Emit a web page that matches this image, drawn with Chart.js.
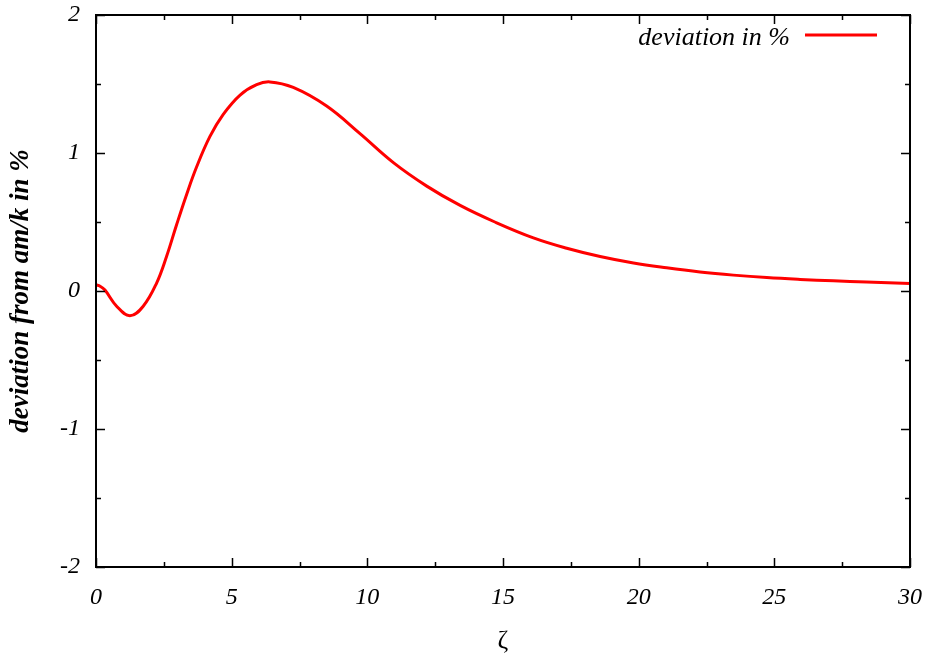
<!DOCTYPE html>
<html lang="en">
<head>
    <meta charset="UTF-8">
    <title>Deviation from am/k</title>
    <script src="https://cdn.jsdelivr.net/npm/chart.js"></script>
    <style>
        html, body { margin: 0; padding: 0; background: #fff; }
        #wrap { width: 926px; height: 654px; }
    </style>
</head>
<body>
    <div id="wrap"><canvas id="devChart" width="926" height="654"></canvas></div>

    <script>
        // curve samples: zeta and deviation in %
        const zeta = [0, 0.15, 0.33, 0.76, 1.25, 1.74, 2.23, 2.6, 2.97, 3.34, 3.71, 4.2, 4.69, 5.31, 5.92, 6.41,
            7.27, 8.5, 9.73, 10.96, 12.19, 13.42, 14.7, 16.12, 17.35, 18.58, 19.81, 21.03, 22.26,
            23.49, 24.72, 25.95, 27.18, 28.4, 30];
        const deviation = [0.045, 0.035, 0.007, -0.11, -0.18, -0.11, 0.056, 0.25, 0.48, 0.70, 0.90, 1.12, 1.28, 1.42, 1.495, 1.515,
            1.475, 1.34, 1.14, 0.93, 0.76, 0.62, 0.50, 0.385, 0.31, 0.25, 0.203, 0.168, 0.138,
            0.115, 0.097, 0.084, 0.074, 0.065, 0.055];

        const xRange = [0, 30];
        const yRange = [-2, 2];
        const xStep = 5;
        const yStep = 1;
        const seriesLabel = 'deviation in %';
        const xTitle = 'ζ';
        const yTitle = 'deviation from am/k in %';

        const serif = "'Liberation Serif', 'DejaVu Serif', serif";

        // frame, inward major/minor ticks on all four sides, and the key in the top right
        const framePlugin = {
            id: 'frame',
            afterDatasetsDraw(chart) {
                const { ctx, chartArea: a, scales } = chart;
                ctx.save();
                ctx.strokeStyle = '#000';
                ctx.lineWidth = 1.5;
                const xs = scales.x, ys = scales.y;
                for (let v = xRange[0]; v <= xRange[1] + 1e-9; v += xStep / 2) {
                    const p = Math.round(xs.getPixelForValue(v)) + 0.5;
                    const len = (Math.abs(v / xStep - Math.round(v / xStep)) < 1e-6) ? 9 : 5;
                    ctx.beginPath();
                    ctx.moveTo(p, a.bottom); ctx.lineTo(p, a.bottom - len);
                    ctx.moveTo(p, a.top); ctx.lineTo(p, a.top + len);
                    ctx.stroke();
                }
                for (let v = yRange[0]; v <= yRange[1] + 1e-9; v += yStep / 2) {
                    const p = Math.round(ys.getPixelForValue(v)) + 0.5;
                    const len = (Math.abs(v / yStep - Math.round(v / yStep)) < 1e-6) ? 9 : 5;
                    ctx.beginPath();
                    ctx.moveTo(a.left, p); ctx.lineTo(a.left + len, p);
                    ctx.moveTo(a.right, p); ctx.lineTo(a.right - len, p);
                    ctx.stroke();
                }
                ctx.lineWidth = 2;
                ctx.strokeRect(a.left, a.top, a.right - a.left, a.bottom - a.top);

                // key
                const ds = chart.data.datasets[0];
                ctx.font = 'italic 26px ' + serif;
                ctx.fillStyle = '#000';
                ctx.textAlign = 'right';
                ctx.textBaseline = 'middle';
                ctx.fillText(ds.label, a.right - 120, a.top + 23);
                ctx.strokeStyle = ds.borderColor;
                ctx.lineWidth = 3;
                ctx.beginPath();
                ctx.moveTo(a.right - 105, a.top + 20);
                ctx.lineTo(a.right - 33, a.top + 20);
                ctx.stroke();
                ctx.restore();
            }
        };

        const ctx = document.getElementById('devChart').getContext('2d');
        new Chart(ctx, {
            type: 'scatter',
            data: {
                datasets: [{
                    label: seriesLabel,
                    data: zeta.map((z, i) => ({ x: z, y: deviation[i] })),
                    showLine: true,
                    borderColor: '#ff0000',
                    borderWidth: 3,
                    pointRadius: 0,
                    tension: 0.4,
                    fill: false
                }]
            },
            options: {
                responsive: false,
                animation: false,
                layout: { padding: 0 },
                plugins: {
                    legend: { display: false },
                    tooltip: { enabled: false }
                },
                scales: {
                    x: {
                        type: 'linear',
                        min: xRange[0],
                        max: xRange[1],
                        ticks: {
                            stepSize: xStep,
                            padding: 16,
                            color: '#000',
                            font: { family: serif, size: 24, style: 'italic' }
                        },
                        grid: { drawOnChartArea: false, drawTicks: false },
                        border: { display: false },
                        title: {
                            display: true,
                            text: xTitle,
                            color: '#000',
                            padding: { top: 0, bottom: 0 },
                            font: { family: serif, size: 26, lineHeight: 1.0 }
                        },
                        afterFit(scale) {
                            scale.height = 87;
                            scale.paddingLeft = 0;
                            scale.paddingRight = 16;
                        }
                    },
                    y: {
                        type: 'linear',
                        min: yRange[0],
                        max: yRange[1],
                        ticks: {
                            stepSize: yStep,
                            padding: 16,
                            color: '#000',
                            font: { family: serif, size: 24, style: 'italic' }
                        },
                        grid: { drawOnChartArea: false, drawTicks: false },
                        border: { display: false },
                        title: {
                            display: true,
                            text: yTitle,
                            color: '#000',
                            padding: { top: 5, bottom: 0 },
                            font: { family: serif, size: 27, style: 'italic', weight: 'bold' }
                        },
                        afterFit(scale) {
                            scale.width = 96;
                            scale.paddingTop = 15;
                            scale.paddingBottom = 0;
                        }
                    }
                }
            },
            plugins: [framePlugin]
        });
    </script>
</body>
</html>
